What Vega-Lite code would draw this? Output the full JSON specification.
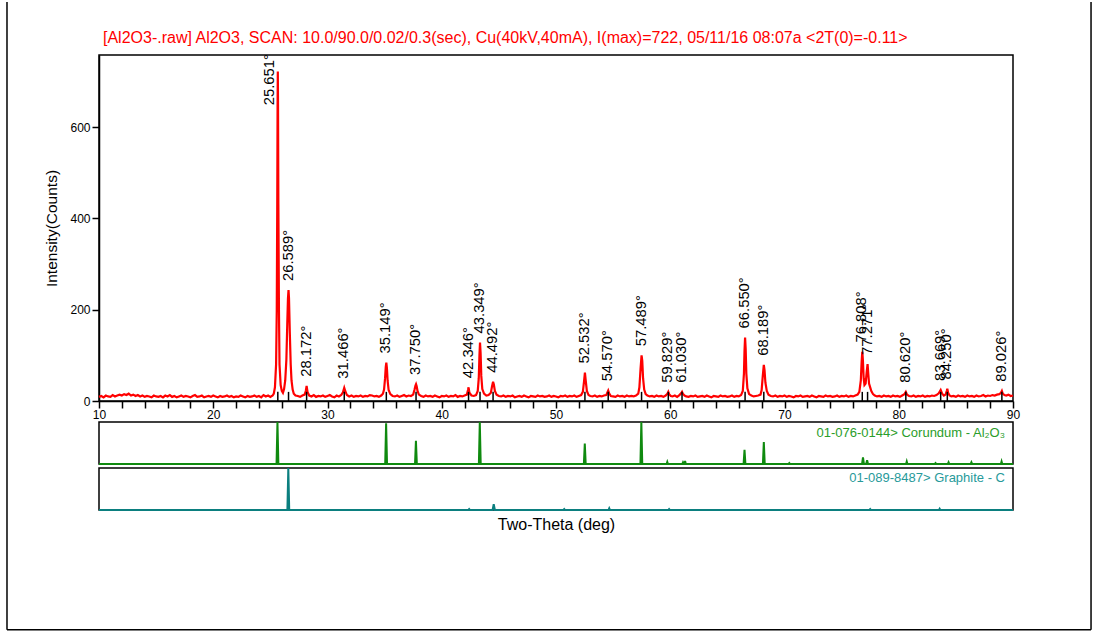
{
"$schema": "https://vega.github.io/schema/vega-lite/v6.json",
"padding": {"left": 5, "top": 0, "right": 0, "bottom": 0},
"background": "white",
"config": {
  "font": "Liberation Sans",
  "view": {"stroke": "black", "strokeWidth": 1.5},
  "axis": {"grid": false, "labelFont": "Liberation Sans", "labelFontSize": 12, "labelColor": "#000", "titleFont": "Liberation Sans", "titleFontSize": 15.5, "titleFontWeight": "normal", "titleColor": "#000", "domainColor": "#000", "tickColor": "#000", "domainWidth": 1.5, "tickWidth": 1.5},
  "text": {"font": "Liberation Sans"},
  "title": {"font": "Liberation Sans"}
},
"datasets": {
"xrd": [
{"t":10.0,"c":9},{"t":10.2,"c":11},{"t":10.4,"c":8},{"t":10.6,"c":12},{"t":10.8,"c":10},{"t":11.0,"c":9},{"t":11.2,"c":13},{"t":11.4,"c":10},{"t":11.6,"c":12},{"t":11.8,"c":14},
{"t":12.0,"c":12},{"t":12.2,"c":15},{"t":12.4,"c":13},{"t":12.6,"c":16},{"t":12.8,"c":12},{"t":13.0,"c":14},{"t":13.2,"c":11},{"t":13.4,"c":13},{"t":13.6,"c":10},{"t":13.8,"c":12},
{"t":14.0,"c":9},{"t":14.2,"c":11},{"t":14.4,"c":10},{"t":14.6,"c":8},{"t":14.8,"c":12},{"t":15.0,"c":10},{"t":15.2,"c":9},{"t":15.4,"c":11},{"t":15.6,"c":8},{"t":15.8,"c":12},
{"t":16.0,"c":10},{"t":16.2,"c":13},{"t":16.4,"c":9},{"t":16.6,"c":11},{"t":16.8,"c":8},{"t":17.0,"c":10},{"t":17.2,"c":12},{"t":17.4,"c":9},{"t":17.6,"c":11},{"t":17.8,"c":10},
{"t":18.0,"c":8},{"t":18.2,"c":11},{"t":18.4,"c":13},{"t":18.6,"c":9},{"t":18.8,"c":10},{"t":19.0,"c":12},{"t":19.2,"c":8},{"t":19.4,"c":10},{"t":19.6,"c":11},{"t":19.8,"c":9},
{"t":20.0,"c":12},{"t":20.2,"c":10},{"t":20.4,"c":8},{"t":20.6,"c":11},{"t":20.8,"c":9},{"t":21.0,"c":10},{"t":21.2,"c":12},{"t":21.4,"c":9},{"t":21.6,"c":11},{"t":21.8,"c":8},
{"t":22.0,"c":10},{"t":22.2,"c":9},{"t":22.4,"c":12},{"t":22.6,"c":10},{"t":22.8,"c":8},{"t":23.0,"c":11},{"t":23.2,"c":9},{"t":23.4,"c":10},{"t":23.6,"c":12},{"t":23.8,"c":9},
{"t":24.0,"c":11},{"t":24.2,"c":8},{"t":24.4,"c":13},{"t":24.6,"c":10},{"t":24.8,"c":12},{"t":25.0,"c":9},
{"t":25.2,"c":12},{"t":25.3,"c":16},{"t":25.4,"c":30},{"t":25.5,"c":80},{"t":25.56,"c":200},{"t":25.6,"c":420},{"t":25.63,"c":640},{"t":25.651,"c":722},{"t":25.67,"c":650},{"t":25.7,"c":430},{"t":25.75,"c":200},{"t":25.8,"c":80},{"t":25.9,"c":35},{"t":26.0,"c":22},{"t":26.1,"c":18},{"t":26.2,"c":26},{"t":26.3,"c":45},{"t":26.4,"c":90},{"t":26.48,"c":170},{"t":26.54,"c":225},{"t":26.589,"c":243},{"t":26.63,"c":225},{"t":26.7,"c":150},{"t":26.78,"c":80},{"t":26.85,"c":45},{"t":26.95,"c":25},{"t":27.05,"c":16},{"t":27.2,"c":12},
{"t":27.4,"c":11},{"t":27.6,"c":9},{"t":27.8,"c":12},{"t":28.0,"c":14},{"t":28.1,"c":22},{"t":28.172,"c":33},{"t":28.25,"c":20},{"t":28.4,"c":12},{"t":28.6,"c":10},{"t":28.8,"c":13},
{"t":29.0,"c":9},{"t":29.2,"c":11},{"t":29.4,"c":10},{"t":29.6,"c":12},{"t":29.8,"c":9},{"t":30.0,"c":11},{"t":30.2,"c":13},{"t":30.4,"c":10},{"t":30.6,"c":8},{"t":30.8,"c":12},
{"t":31.0,"c":10},{"t":31.2,"c":13},{"t":31.35,"c":19},{"t":31.466,"c":29},{"t":31.55,"c":22},{"t":31.7,"c":13},{"t":31.9,"c":10},{"t":32.1,"c":12},{"t":32.3,"c":9},{"t":32.5,"c":11},
{"t":32.7,"c":10},{"t":32.9,"c":12},{"t":33.1,"c":9},{"t":33.3,"c":11},{"t":33.5,"c":10},{"t":33.7,"c":13},{"t":33.9,"c":12},{"t":34.1,"c":10},{"t":34.3,"c":11},{"t":34.5,"c":9},
{"t":34.7,"c":12},{"t":34.85,"c":16},{"t":34.95,"c":25},{"t":35.04,"c":50},{"t":35.1,"c":75},{"t":35.149,"c":84},{"t":35.2,"c":72},{"t":35.26,"c":45},{"t":35.35,"c":24},{"t":35.5,"c":15},
{"t":35.7,"c":11},{"t":35.9,"c":10},{"t":36.1,"c":12},{"t":36.3,"c":9},{"t":36.5,"c":11},{"t":36.7,"c":13},{"t":36.9,"c":10},{"t":37.1,"c":12},{"t":37.3,"c":11},{"t":37.5,"c":14},
{"t":37.62,"c":25},{"t":37.7,"c":34},{"t":37.75,"c":37},{"t":37.8,"c":33},{"t":37.88,"c":22},{"t":38.0,"c":14},{"t":38.2,"c":11},{"t":38.4,"c":9},{"t":38.6,"c":12},{"t":38.8,"c":10},
{"t":39.0,"c":11},{"t":39.2,"c":9},{"t":39.4,"c":12},{"t":39.6,"c":10},{"t":39.8,"c":8},{"t":40.0,"c":11},{"t":40.2,"c":10},{"t":40.4,"c":12},{"t":40.6,"c":9},{"t":40.8,"c":11},
{"t":41.0,"c":10},{"t":41.2,"c":13},{"t":41.4,"c":9},{"t":41.6,"c":11},{"t":41.8,"c":10},{"t":42.0,"c":12},{"t":42.2,"c":14},{"t":42.3,"c":24},{"t":42.346,"c":30},{"t":42.42,"c":18},
{"t":42.6,"c":12},{"t":42.8,"c":11},{"t":43.0,"c":13},{"t":43.15,"c":22},{"t":43.24,"c":50},{"t":43.3,"c":100},{"t":43.349,"c":128},{"t":43.4,"c":105},{"t":43.46,"c":55},{"t":43.55,"c":26},
{"t":43.7,"c":16},{"t":43.9,"c":12},{"t":44.1,"c":13},{"t":44.3,"c":18},{"t":44.4,"c":32},{"t":44.492,"c":42},{"t":44.56,"c":36},{"t":44.65,"c":22},{"t":44.8,"c":14},{"t":45.0,"c":11},
{"t":45.2,"c":10},{"t":45.4,"c":12},{"t":45.6,"c":9},{"t":45.8,"c":11},{"t":46.0,"c":10},{"t":46.2,"c":12},{"t":46.4,"c":8},{"t":46.6,"c":10},{"t":46.8,"c":11},{"t":47.0,"c":9},
{"t":47.2,"c":12},{"t":47.4,"c":10},{"t":47.6,"c":8},{"t":47.8,"c":11},{"t":48.0,"c":10},{"t":48.2,"c":9},{"t":48.4,"c":12},{"t":48.6,"c":10},{"t":48.8,"c":11},{"t":49.0,"c":9},
{"t":49.2,"c":10},{"t":49.4,"c":12},{"t":49.6,"c":9},{"t":49.8,"c":11},{"t":50.0,"c":10},{"t":50.2,"c":8},{"t":50.4,"c":11},{"t":50.6,"c":10},{"t":50.8,"c":12},{"t":51.0,"c":9},
{"t":51.2,"c":11},{"t":51.4,"c":10},{"t":51.6,"c":12},{"t":51.8,"c":9},{"t":52.0,"c":11},{"t":52.2,"c":13},{"t":52.35,"c":20},{"t":52.45,"c":42},{"t":52.532,"c":62},{"t":52.6,"c":45},
{"t":52.7,"c":22},{"t":52.85,"c":13},{"t":53.0,"c":11},{"t":53.2,"c":10},{"t":53.4,"c":12},{"t":53.6,"c":9},{"t":53.8,"c":11},{"t":54.0,"c":10},{"t":54.2,"c":12},{"t":54.4,"c":13},
{"t":54.5,"c":19},{"t":54.57,"c":23},{"t":54.65,"c":17},{"t":54.8,"c":11},{"t":55.0,"c":10},{"t":55.2,"c":9},{"t":55.4,"c":12},{"t":55.6,"c":10},{"t":55.8,"c":11},{"t":56.0,"c":9},
{"t":56.2,"c":12},{"t":56.4,"c":10},{"t":56.6,"c":11},{"t":56.8,"c":10},{"t":57.0,"c":12},{"t":57.2,"c":16},{"t":57.3,"c":30},{"t":57.4,"c":70},{"t":57.489,"c":100},{"t":57.55,"c":88},
{"t":57.62,"c":50},{"t":57.72,"c":25},{"t":57.85,"c":15},{"t":58.0,"c":12},{"t":58.2,"c":10},{"t":58.4,"c":11},{"t":58.6,"c":9},{"t":58.8,"c":12},{"t":59.0,"c":10},{"t":59.2,"c":11},
{"t":59.4,"c":9},{"t":59.6,"c":12},{"t":59.75,"c":16},{"t":59.829,"c":20},{"t":59.9,"c":15},{"t":60.05,"c":11},{"t":60.2,"c":10},{"t":60.4,"c":12},{"t":60.6,"c":9},{"t":60.8,"c":13},
{"t":60.95,"c":17},{"t":61.03,"c":20},{"t":61.1,"c":16},{"t":61.25,"c":12},{"t":61.4,"c":10},{"t":61.6,"c":9},{"t":61.8,"c":11},{"t":62.0,"c":10},{"t":62.2,"c":12},{"t":62.4,"c":9},
{"t":62.6,"c":10},{"t":62.8,"c":11},{"t":63.0,"c":9},{"t":63.2,"c":12},{"t":63.4,"c":10},{"t":63.6,"c":8},{"t":63.8,"c":11},{"t":64.0,"c":10},{"t":64.2,"c":9},{"t":64.4,"c":12},
{"t":64.6,"c":10},{"t":64.8,"c":11},{"t":65.0,"c":9},{"t":65.2,"c":10},{"t":65.4,"c":12},{"t":65.6,"c":9},{"t":65.8,"c":11},{"t":66.0,"c":10},{"t":66.2,"c":13},{"t":66.35,"c":22},
{"t":66.45,"c":60},{"t":66.5,"c":110},{"t":66.55,"c":139},{"t":66.6,"c":115},{"t":66.66,"c":60},{"t":66.75,"c":28},{"t":66.9,"c":15},{"t":67.1,"c":12},{"t":67.3,"c":10},{"t":67.5,"c":11},
{"t":67.7,"c":12},{"t":67.9,"c":14},{"t":68.0,"c":24},{"t":68.1,"c":55},{"t":68.189,"c":79},{"t":68.25,"c":68},{"t":68.33,"c":40},{"t":68.45,"c":22},{"t":68.6,"c":14},{"t":68.8,"c":11},
{"t":69.0,"c":10},{"t":69.2,"c":12},{"t":69.4,"c":9},{"t":69.6,"c":11},{"t":69.8,"c":10},{"t":70.0,"c":12},{"t":70.2,"c":9},{"t":70.4,"c":11},{"t":70.6,"c":10},{"t":70.8,"c":8},
{"t":71.0,"c":11},{"t":71.2,"c":10},{"t":71.4,"c":12},{"t":71.6,"c":9},{"t":71.8,"c":10},{"t":72.0,"c":11},{"t":72.2,"c":9},{"t":72.4,"c":12},{"t":72.6,"c":10},{"t":72.8,"c":8},
{"t":73.0,"c":11},{"t":73.2,"c":10},{"t":73.4,"c":9},{"t":73.6,"c":12},{"t":73.8,"c":10},{"t":74.0,"c":11},{"t":74.2,"c":9},{"t":74.4,"c":10},{"t":74.6,"c":12},{"t":74.8,"c":9},
{"t":75.0,"c":11},{"t":75.2,"c":10},{"t":75.4,"c":12},{"t":75.6,"c":9},{"t":75.8,"c":11},{"t":76.0,"c":10},{"t":76.2,"c":12},{"t":76.4,"c":14},{"t":76.55,"c":20},{"t":76.68,"c":45},
{"t":76.75,"c":85},{"t":76.808,"c":108},{"t":76.86,"c":90},{"t":76.93,"c":50},{"t":77.0,"c":35},{"t":77.1,"c":38},{"t":77.2,"c":65},{"t":77.271,"c":81},{"t":77.33,"c":60},{"t":77.4,"c":38},
{"t":77.5,"c":30},{"t":77.6,"c":22},{"t":77.75,"c":15},{"t":77.9,"c":12},{"t":78.1,"c":10},{"t":78.3,"c":11},{"t":78.5,"c":9},{"t":78.7,"c":12},{"t":78.9,"c":10},{"t":79.1,"c":11},
{"t":79.3,"c":9},{"t":79.5,"c":12},{"t":79.7,"c":10},{"t":79.9,"c":11},{"t":80.1,"c":9},{"t":80.3,"c":12},{"t":80.5,"c":15},{"t":80.62,"c":20},{"t":80.72,"c":14},{"t":80.9,"c":11},
{"t":81.1,"c":10},{"t":81.3,"c":12},{"t":81.5,"c":9},{"t":81.7,"c":11},{"t":81.9,"c":10},{"t":82.1,"c":12},{"t":82.3,"c":9},{"t":82.5,"c":11},{"t":82.7,"c":10},{"t":82.9,"c":12},
{"t":83.1,"c":11},{"t":83.3,"c":13},{"t":83.5,"c":17},{"t":83.669,"c":24},{"t":83.8,"c":16},{"t":83.95,"c":12},{"t":84.1,"c":14},{"t":84.2,"c":22},{"t":84.25,"c":27},{"t":84.32,"c":18},
{"t":84.45,"c":12},{"t":84.6,"c":10},{"t":84.8,"c":11},{"t":85.0,"c":9},{"t":85.2,"c":12},{"t":85.4,"c":10},{"t":85.6,"c":11},{"t":85.8,"c":9},{"t":86.0,"c":12},{"t":86.2,"c":10},
{"t":86.4,"c":11},{"t":86.6,"c":9},{"t":86.8,"c":12},{"t":87.0,"c":10},{"t":87.2,"c":11},{"t":87.4,"c":13},{"t":87.6,"c":10},{"t":87.8,"c":12},{"t":88.0,"c":11},{"t":88.2,"c":13},
{"t":88.4,"c":12},{"t":88.6,"c":14},{"t":88.8,"c":15},{"t":88.95,"c":18},{"t":89.026,"c":22},{"t":89.1,"c":16},{"t":89.25,"c":13},{"t":89.4,"c":12},{"t":89.6,"c":14},{"t":89.8,"c":11},{"t":90.0,"c":12}
],
"peaks": [
{"p":25.651,"I":722},{"p":26.589,"I":243},{"p":28.172,"I":33},{"p":31.466,"I":29},{"p":35.149,"I":84},{"p":37.750,"I":37},{"p":42.346,"I":30},{"p":43.349,"I":128},{"p":44.492,"I":42},{"p":52.532,"I":62},{"p":54.570,"I":23},
{"p":57.489,"I":100},{"p":59.829,"I":20},{"p":61.030,"I":20},{"p":66.550,"I":139},{"p":68.189,"I":79},{"p":76.808,"I":108},{"p":77.271,"I":81},{"p":80.620,"I":20},{"p":83.669,"I":24},{"p":84.250,"I":27},{"p":89.026,"I":22}
],
"cor": [
{"t":10,"h":0},{"t":25.54,"h":0},{"t":25.62,"h":100},{"t":25.70,"h":0},{"t":35.05,"h":0},{"t":35.13,"h":97},{"t":35.21,"h":0},{"t":37.66,"h":0},{"t":37.74,"h":55},{"t":37.82,"h":0},
{"t":43.25,"h":0},{"t":43.33,"h":100},{"t":43.41,"h":0},{"t":52.44,"h":0},{"t":52.52,"h":49},{"t":52.60,"h":0},{"t":57.39,"h":0},{"t":57.47,"h":100},{"t":57.55,"h":0},
{"t":59.68,"h":0},{"t":59.74,"h":5},{"t":59.80,"h":0},{"t":61.06,"h":0},{"t":61.12,"h":4},{"t":61.2,"h":0},{"t":61.24,"h":0},{"t":61.3,"h":7},{"t":61.36,"h":0},
{"t":66.42,"h":0},{"t":66.50,"h":34},{"t":66.58,"h":0},{"t":68.11,"h":0},{"t":68.19,"h":52},{"t":68.27,"h":0},{"t":70.36,"h":0},{"t":70.42,"h":2},{"t":70.48,"h":0},
{"t":76.79,"h":0},{"t":76.87,"h":16},{"t":76.95,"h":0},{"t":77.15,"h":0},{"t":77.23,"h":9},{"t":77.31,"h":0},{"t":80.64,"h":0},{"t":80.70,"h":6},{"t":80.76,"h":0},
{"t":83.16,"h":0},{"t":83.22,"h":2},{"t":83.28,"h":0},{"t":84.30,"h":0},{"t":84.36,"h":4},{"t":84.42,"h":0},{"t":86.30,"h":0},{"t":86.36,"h":4},{"t":86.42,"h":0},
{"t":88.94,"h":0},{"t":89.0,"h":6},{"t":89.06,"h":0},{"t":90,"h":0}
],
"gra": [
{"t":10,"h":0},{"t":26.49,"h":0},{"t":26.57,"h":100},{"t":26.65,"h":0},{"t":42.34,"h":0},{"t":42.4,"h":2},{"t":42.46,"h":0},{"t":44.45,"h":0},{"t":44.55,"h":14},{"t":44.65,"h":0},
{"t":50.66,"h":0},{"t":50.72,"h":2},{"t":50.78,"h":0},{"t":54.6,"h":0},{"t":54.66,"h":4},{"t":54.72,"h":0},{"t":59.84,"h":0},{"t":59.9,"h":2},{"t":59.96,"h":0},
{"t":77.44,"h":0},{"t":77.5,"h":2},{"t":77.56,"h":0},{"t":83.52,"h":0},{"t":83.58,"h":3},{"t":83.64,"h":0},{"t":90,"h":0}
]
},
"vconcat": [
{
 "width": 914, "height": 346,
 "title": {"text": "[Al2O3-.raw] Al2O3, SCAN: 10.0/90.0/0.02/0.3(sec), Cu(40kV,40mA), I(max)=722, 05/11/16 08:07a <2T(0)=-0.11>", "anchor": "start", "frame": "group", "dx": 4, "offset": 8, "fontSize": 16, "fontWeight": "normal", "color": "#ff0000"},
 "resolve": {"axis": {"x": "independent"}},
 "layer": [
  {"data": {"name": "xrd"}, "mark": {"type": "line", "color": "#ff0000", "strokeWidth": 2.2},
   "encoding": {
    "x": {"field": "t", "type": "quantitative", "scale": {"domain": [10, 90], "nice": false, "zero": false},
      "axis": {"orient": "bottom", "values": [10,20,30,40,50,60,70,80,90], "labelFlush": false, "labelOverlap": false, "tickSize": 7, "labelPadding": 1, "title": null}},
    "y": {"field": "c", "type": "quantitative", "scale": {"domain": [0, 758], "nice": false, "zero": false},
      "axis": {"values": [0, 200, 400, 600], "tickSize": 7, "labelPadding": 2, "title": "Intensity(Counts)", "titlePadding": 10}}
   }},
  {"data": {"name": "peaks"}, "mark": {"type": "rule", "color": "black", "strokeWidth": 1.5},
   "encoding": {
    "x": {"field": "p", "type": "quantitative",
      "axis": {"orient": "bottom", "values": [12,14,16,18,22,24,26,28,32,34,36,38,42,44,46,48,52,54,56,58,62,64,66,68,72,74,76,78,82,84,86,88], "labels": false, "domain": false, "tickSize": 7, "title": null}},
    "y": {"datum": 0}, "y2": {"datum": 20}}},
  {"data": {"name": "peaks"},
   "transform": [
    {"calculate": "datum.I > 700 ? 648 : datum.I + 20", "as": "ly"},
    {"calculate": "datum.I > 700 ? datum.p - 0.72 : datum.p", "as": "lx"},
    {"calculate": "format(datum.p, '.3f') + '°'", "as": "lab"}
   ],
   "mark": {"type": "text", "angle": 270, "align": "left", "baseline": "middle", "fontSize": 14.8, "color": "black"},
   "encoding": {"x": {"field": "lx", "type": "quantitative", "axis": null}, "y": {"field": "ly", "type": "quantitative"}, "text": {"field": "lab"}}}
 ]
},
{
 "vconcat": [
  {
   "width": 914, "height": 42,
   "layer": [
    {"data": {"name": "cor"}, "mark": {"type": "line", "color": "#0f8a0f", "strokeWidth": 2},
     "encoding": {
      "x": {"field": "t", "type": "quantitative", "scale": {"domain": [10, 90], "nice": false, "zero": false}, "axis": null},
      "y": {"field": "h", "type": "quantitative", "scale": {"domain": [0, 100], "nice": false}, "axis": null}
     }},
    {"data": {"values": [{"s": "01-076-0144> Corundum - Al₂O₃"}]},
     "mark": {"type": "text", "align": "right", "baseline": "middle", "fontSize": 13, "color": "#2a9d2a"},
     "encoding": {"x": {"datum": 89.3}, "y": {"datum": 74}, "text": {"field": "s"}}}
   ]
  },
  {
   "width": 914, "height": 42,
   "layer": [
    {"data": {"name": "gra"}, "mark": {"type": "line", "color": "#0b7f7f", "strokeWidth": 2},
     "encoding": {
      "x": {"field": "t", "type": "quantitative", "scale": {"domain": [10, 90], "nice": false, "zero": false},
        "axis": {"labels": false, "ticks": false, "domain": false, "title": "Two-Theta (deg)", "titlePadding": 6, "titleFontSize": 16}},
      "y": {"field": "h", "type": "quantitative", "scale": {"domain": [0, 100], "nice": false}, "axis": null}
     }},
    {"data": {"values": [{"s": "01-089-8487> Graphite - C"}]},
     "mark": {"type": "text", "align": "right", "baseline": "middle", "fontSize": 13, "color": "#279a9a"},
     "encoding": {"x": {"datum": 89.3}, "y": {"datum": 77}, "text": {"field": "s"}}},
    {"data": {"values": [{}]}, "mark": {"type": "rule", "color": "black", "strokeWidth": 1.5},
     "encoding": {"x": {"datum": 1.947}, "y": {"datum": -285}, "y2": {"datum": 1209.5}}},
    {"data": {"values": [{}]}, "mark": {"type": "rule", "color": "black", "strokeWidth": 1.5},
     "encoding": {"x": {"datum": 96.83}, "y": {"datum": -285}, "y2": {"datum": 1209.5}}},
    {"data": {"values": [{}]}, "mark": {"type": "rule", "color": "black", "strokeWidth": 1.5},
     "encoding": {"x": {"datum": 1.947}, "x2": {"datum": 96.83}, "y": {"datum": -285}}}
   ]
  }
 ],
 "spacing": 4,
 "bounds": "flush",
 "resolve": {"scale": {"x": "independent", "y": "independent"}}
}
],
"spacing": 21,
"bounds": "flush",
"resolve": {"scale": {"x": "independent", "y": "independent"}}
}
